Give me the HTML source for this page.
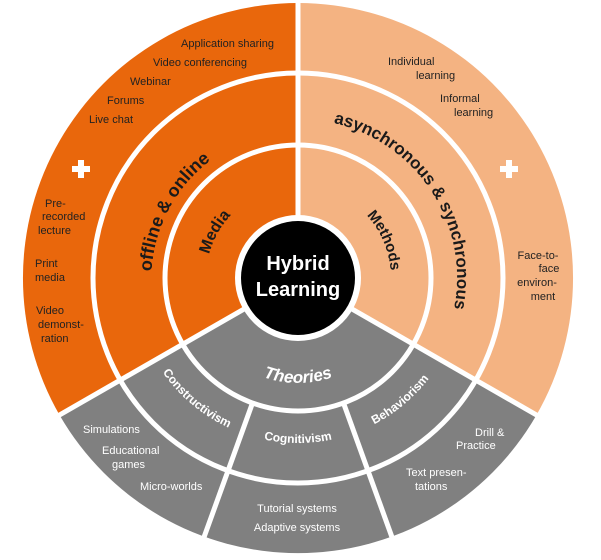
<!DOCTYPE html>
<html><head><meta charset="utf-8"><style>
html,body{margin:0;padding:0;background:#fff;}
svg{display:block;}
text{font-family:"Liberation Sans",sans-serif;}
.o{font-size:11px;fill:#222;}
.g{font-size:11px;fill:#fff;}
.b{font-weight:bold;}
</style></head><body>
<svg width="601" height="560" viewBox="0 0 601 560" xmlns="http://www.w3.org/2000/svg">
<defs>
<path id="p1" d="M227.6,410.4 A150,150 0 0 1 368.4,145.6"/>
<path id="p2" d="M253.4,358.5 A92,92 0 0 1 342.6,197.5"/>
<path id="p3" d="M211.4,144.6 A159,159 0 0 1 384.6,411.4"/>
<path id="p4" d="M260.9,192.7 A93,93 0 0 1 335.1,363.3"/>
<path id="p5" d="M193,278 A105,105 0 0 0 403,278"/>
<path id="p6" d="M171.6,171.9 A165,165 0 0 0 424.4,384.1"/>
<path id="p7" d="M133,278 A165,165 0 0 0 463,278"/>
<path id="p8" d="M171.6,384.1 A165,165 0 0 0 424.4,171.9"/>
</defs>
<path d="M298,278 L298,3 A275,275 0 0 0 59.8,415.5 Z" fill="#E9670C"/>
<path d="M298,278 L298,3 A275,275 0 0 1 536.2,415.5 Z" fill="#F4B382"/>
<path d="M298,278 L59.8,415.5 A275,275 0 0 0 536.2,415.5 Z" fill="#808080"/>
<g stroke="#fff" stroke-width="5" fill="none">
<line x1="298" y1="278" x2="298" y2="0"/>
<line x1="298" y1="278" x2="56" y2="417"/>
<line x1="298" y1="278" x2="540" y2="417"/>
<line x1="252.5" y1="403" x2="203" y2="540"/>
<line x1="343.5" y1="403" x2="393" y2="540"/>
<circle cx="298" cy="278" r="205"/>
<circle cx="298" cy="278" r="133"/>
</g>
<circle cx="298" cy="278" r="63" fill="#fff"/>
<circle cx="298" cy="278" r="57" fill="#000"/>
<text x="298" y="270" text-anchor="middle" fill="#fff" font-size="20" class="b">Hybrid</text>
<text x="298" y="296" text-anchor="middle" fill="#fff" font-size="20" class="b">Learning</text>

<text font-size="18" class="b" fill="#1a1a1a"><textPath href="#p1" startOffset="50%" text-anchor="middle">offline &amp; online</textPath></text>
<text font-size="16" class="b" fill="#1a1a1a"><textPath href="#p2" startOffset="50%" text-anchor="middle">Media</textPath></text>
<text font-size="17" class="b" fill="#1a1a1a"><textPath href="#p3" startOffset="50%" text-anchor="middle">asynchronous &amp; synchronous</textPath></text>
<text font-size="15" class="b" fill="#1a1a1a"><textPath href="#p4" startOffset="50%" text-anchor="middle">Methods</textPath></text>
<text font-size="17" class="b" font-style="italic" fill="#fff"><textPath href="#p5" startOffset="50%" text-anchor="middle">Theories</textPath></text>
<text font-size="12" class="b" fill="#fff"><textPath href="#p6" startOffset="50%" text-anchor="middle">Constructivism</textPath></text>
<text font-size="12" class="b" fill="#fff"><textPath href="#p7" startOffset="50%" text-anchor="middle">Cognitivism</textPath></text>
<text font-size="12" class="b" fill="#fff"><textPath href="#p8" startOffset="50%" text-anchor="middle">Behaviorism</textPath></text>

<g class="o">
<text x="181" y="47" class="o">Application sharing</text>
<text x="153" y="66" class="o">Video conferencing</text>
<text x="130" y="85" class="o">Webinar</text>
<text x="107" y="104" class="o">Forums</text>
<text x="89" y="123" class="o">Live chat</text>
<text x="45" y="207" class="o">Pre-</text>
<text x="42" y="220" class="o">recorded</text>
<text x="38" y="234" class="o">lecture</text>
<text x="35" y="267" class="o">Print</text>
<text x="35" y="281" class="o">media</text>
<text x="36" y="314" class="o">Video</text>
<text x="38" y="328" class="o">demonst-</text>
<text x="41" y="342" class="o">ration</text>
<text x="388" y="65" class="o">Individual</text>
<text x="416" y="79" class="o">learning</text>
<text x="440" y="102" class="o">Informal</text>
<text x="454" y="116" class="o">learning</text>
<text x="538" y="259" class="o" text-anchor="middle">Face-to-</text>
<text x="549" y="272" class="o" text-anchor="middle">face</text>
<text x="537" y="286" class="o" text-anchor="middle">environ-</text>
<text x="543" y="300" class="o" text-anchor="middle">ment</text>
</g>
<g>
<text x="83" y="433" class="g">Simulations</text>
<text x="102" y="454" class="g">Educational</text>
<text x="112" y="468" class="g">games</text>
<text x="140" y="490" class="g">Micro-worlds</text>
<text x="297" y="512" class="g" text-anchor="middle">Tutorial systems</text>
<text x="297" y="531" class="g" text-anchor="middle">Adaptive systems</text>
<text x="475" y="436" class="g">Drill &amp;</text>
<text x="456" y="449" class="g">Practice</text>
<text x="406" y="476" class="g">Text presen-</text>
<text x="415" y="490" class="g">tations</text>
</g>
<g fill="#fff">
<rect x="72" y="166" width="18" height="6"/><rect x="78" y="160" width="6" height="18"/>
<rect x="500" y="166" width="18" height="6"/><rect x="506" y="160" width="6" height="18"/>
</g>
</svg>
</body></html>
